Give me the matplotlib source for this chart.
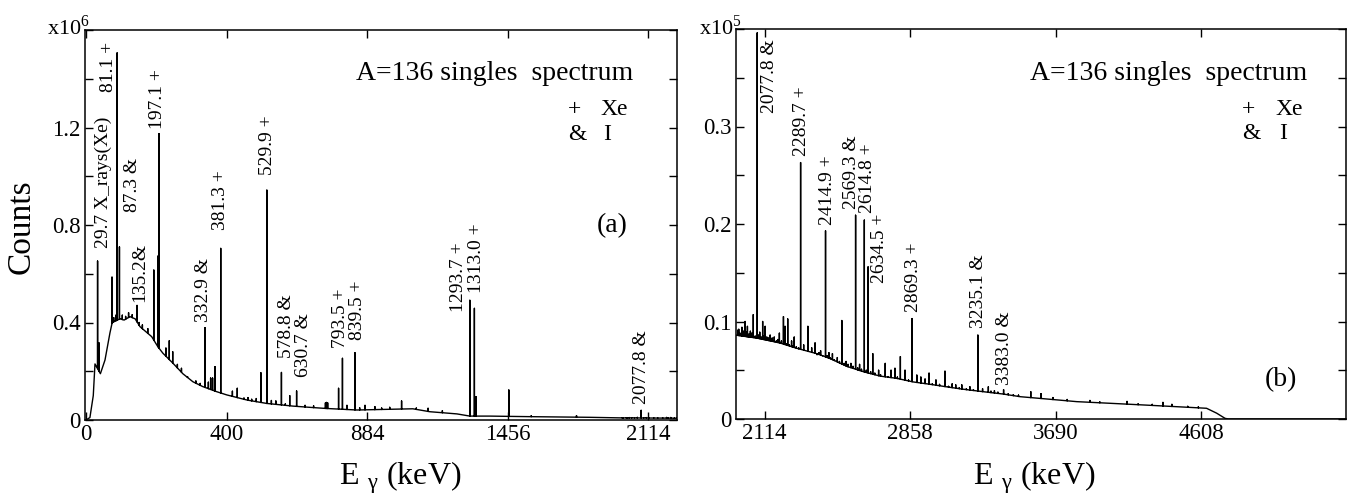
import numpy as np
import matplotlib
matplotlib.use('Agg')
import matplotlib.pyplot as plt
from matplotlib.ticker import MultipleLocator, FuncFormatter

plt.rcParams['font.family'] = ['Liberation Serif', 'DejaVu Serif']
plt.rcParams['mathtext.fontset'] = 'stix'

# continuum under the lines (keV, counts)
bg_energy = [0, 10, 18.6, 23, 37, 49, 62, 68, 75, 88.7, 100, 115.8, 130, 143.3, 160,
             176, 193.9, 208, 237, 266, 296, 326, 369, 400, 464, 529, 618, 723,
             847, 972, 1061, 1129, 1240, 1294, 1379, 1523, 1830, 1977, 2076, 2188,
             2271, 2371, 2438, 2524, 2610, 2698, 2786, 2876, 2968, 3059, 3153,
             3266, 3381, 3479, 3818, 4233, 4644, 4711, 4767, 4790, 5610]
bg_counts = [0, 10000, 100000, 230000, 190000, 246000, 357000, 400000, 405000,
             415000, 410000, 424000, 415000, 383000, 362000, 342000, 300000,
             274000, 233000, 190000, 157000, 137000, 116000, 103000, 82000, 68000,
             57000, 48000, 41000, 44000, 46000, 34000, 25000, 16000, 16000, 14000,
             11000, 8600, 8300, 7800, 7250, 6700, 6200, 5400, 4850, 4400, 4170,
             3800, 3560, 3300, 3050, 2800, 2560, 2290, 1780, 1440, 1100, 600, 70,
             0, 0]

# gamma lines (keV, counts at the top of the line)
peak_energy = [29.7, 33.6, 67.5, 72, 78, 81.1, 87.3, 95, 104, 112, 122, 135.2, 141,
               150, 165, 182, 193.4, 197.1, 216.7, 226.4, 236.3, 250, 262, 280,
               305, 318, 332.9, 343, 350, 356, 363.3, 381.3, 418, 433.5, 455, 468,
               480, 495, 510, 529.9, 545, 560, 578.8, 592, 607, 630.7, 660, 690,
               732, 736, 740, 779.4, 793.5, 810, 839.5, 857, 877, 914, 940, 971,
               1017, 1075, 1122, 1180, 1293.7, 1313.0, 1320, 1461, 1560, 1767,
               1990, 2005, 2020, 2031, 2045, 2059, 2077.8, 2090, 2104, 2116, 2140,
               2160, 2185, 2205, 2213, 2226, 2245, 2258, 2289.7, 2305, 2326, 2345,
               2362, 2390, 2414.9, 2432, 2450, 2475, 2498, 2520, 2545, 2569.3,
               2590, 2614.8, 2634.5, 2659, 2690, 2725, 2756, 2777, 2806, 2831,
               2869.3, 2895, 2917, 2940, 2962, 3000, 3050, 3090, 3110, 3144, 3190,
               3235.1, 3262, 3295, 3330, 3383.0, 3440, 3542, 3603, 3674, 3760,
               3899, 3960, 4042, 4130, 4200, 4290, 4359, 4417, 4520, 4590]
peak_counts = [652000, 316000, 586000, 420000, 430000, 1506000, 710000, 430000,
               425000, 440000, 432000, 470000, 400000, 390000, 375000, 615000,
               672000, 1175000, 295000, 325000, 280000, 228000, 212000, 178000,
               160000, 150000, 379000, 155000, 172000, 172000, 219000, 704000,
               118000, 130000, 90000, 92000, 85000, 88000, 194000, 943000, 80000,
               78000, 195000, 66000, 100000, 119000, 60000, 58000, 70000, 72000,
               70000, 130000, 253000, 60000, 276000, 50000, 60000, 55000, 49000,
               52000, 78000, 49000, 48000, 38000, 492000, 458000, 96000, 123000,
               17000, 18000, 9200, 9400, 10000, 9500, 9000, 10700, 39600, 8900,
               10000, 9500, 8600, 8400, 8800, 10500, 9500, 10260, 8000, 8400,
               26300, 7600, 9500, 7300, 7800, 7000, 19300, 6800, 6700, 6300,
               10100, 5900, 5700, 20900, 5600, 20400, 15600, 6700, 5000, 5700,
               5000, 5200, 6400, 5000, 10300, 4500, 4300, 4100, 4700, 4000, 4900,
               3600, 3500, 3500, 3300, 8600, 3100, 3300, 2900, 3000, 2500, 2800,
               2600, 2200, 2000, 1900, 1750, 1600, 1800, 1550, 1500, 1700, 1500,
               1300, 1250]

# weak structure riding on the continuum (keV, counts)
weak_energy = [1985, 1996, 2012, 2026, 2038, 2052, 2068, 2084, 2097, 2110, 2124,
               2133, 2150, 2170, 2178, 2195, 2220, 2234, 2252, 2268, 2280, 2298,
               2315, 2335, 2352, 2372, 2382, 2400, 2424, 2440, 2460, 2486, 2510,
               2530, 2556, 2580, 2600, 2625, 2648, 2670, 2700, 2740, 2790, 2850,
               2980, 3020, 3070, 3130, 3170, 3210, 3310, 3350, 3410, 3470]
weak_counts = [9100, 8800, 9000, 8900, 8700, 8800, 8500, 8600, 8400, 8500, 8400,
               8300, 8300, 8000, 8150, 8000, 7700, 7600, 7500, 7400, 7300, 7100,
               7000, 6900, 6800, 6600, 6800, 6500, 6500, 6250, 6050, 5900, 5700,
               5600, 5400, 5250, 5100, 5000, 4850, 4700, 4550, 4350, 4300, 4000,
               3600, 3550, 3350, 3200, 3100, 3000, 2850, 2750, 2600, 2450]

# labelled lines in each panel
labels_a = ['29.7 X_rays(Xe)', '81.1 +', '87.3 &', '135.2&', '197.1 +', '332.9 &',
            '381.3 +', '529.9 +', '578.8 &', '630.7 &', '793.5 +', '839.5 +',
            '1293.7 +', '1313.0 +', '2077.8 &']
label_e_a = [29.7, 81.1, 87.3, 135.2, 197.1, 332.9, 381.3, 529.9, 578.8, 630.7,
             793.5, 839.5, 1293.7, 1313.0, 2077.8]
labels_b = ['2077.8 &', '2289.7 +', '2414.9 +', '2569.3 &', '2614.8 +', '2634.5 +',
            '2869.3 +', '3235.1 &', '3383.0 &']
label_e_b = [2077.8, 2289.7, 2414.9, 2569.3, 2614.8, 2634.5, 2869.3, 3235.1, 3383.0]

# text offsets from the line tops, in pixels (dx, dy up)
offs_a = [(6, 13), (-8.7, -39), (12.7, 35), (2.5, 3), (-2, 5), (-2, 6), (0, 18),
          (0.7, 15), (4.7, 14), (7.3, 14.3), (-2.3, 10), (2.8, 12.7), (-11, -11.7),
          (2.5, 15), (0.8, 6.7)]
offs_b = [(12.3, -80), (1.3, 6.7), (1.6, 5.7), (-3.7, 6.7), (3.3, 6.7), (11.7, -16),
          (1, 6.7), (0.3, 6.7), (1, 4.3)]

# energy calibration of the channel axis: E = A*c + B*c^2
A_CAL, B_CAL = 357.0, 43.0


def e_to_ch(e):
    e = np.asarray(e, dtype=float)
    return (-A_CAL + np.sqrt(np.maximum(A_CAL ** 2 + 4 * B_CAL * e, 0))) / (2 * B_CAL)


def ch_to_e(c):
    c = np.asarray(c, dtype=float)
    return A_CAL * c + B_CAL * c * c


def build_spectrum():
    pe = np.array(peak_energy + weak_energy, dtype=float)
    pc = np.array(peak_counts + weak_counts, dtype=float)
    base = np.interp(pe, bg_energy, bg_counts)
    x = np.concatenate([bg_energy, pe, pe, pe])
    y = np.concatenate([bg_counts, base, pc, base])
    order = np.concatenate([np.zeros(len(bg_energy)), np.zeros(len(pe)),
                            np.ones(len(pe)), 2 * np.ones(len(pe))])
    idx = np.lexsort((order, x))
    return x[idx], y[idx]


def zero_fmt(v, pos):
    return '0' if abs(v) < 1e-9 else '%g' % v


def style_axes(ax, xt, yt, yt_minor):
    ax.set_xscale('function', functions=(e_to_ch, ch_to_e))
    ax.set_xticks(xt)
    ax.set_xticklabels([str(t) for t in xt])
    ax.xaxis.set_minor_locator(plt.NullLocator())
    ax.set_yticks(yt)
    ax.yaxis.set_minor_locator(MultipleLocator(yt_minor))
    ax.yaxis.set_major_formatter(FuncFormatter(zero_fmt))
    ax.tick_params(which='both', direction='in', top=True, right=True,
                   length=5.8, width=1.0, labelsize=16.5, pad=3)
    for s in ax.spines.values():
        s.set_linewidth(1.1)


def add_labels(ax, texts, energies, offs, scale):
    for t, e, (dx, dy) in zip(texts, energies, offs):
        top = peak_counts[peak_energy.index(e)] / scale
        ax.annotate(t, xy=(e, top), xytext=(dx * 0.72, dy * 0.72),
                    textcoords='offset points', rotation=90,
                    ha='center', va='bottom', fontsize=14)


def add_legend(ax, x_title, y_title, x_sym, x_name, x_i, y1, y2):
    ax.text(x_title, y_title, 'A=136 singles  spectrum', transform=ax.transAxes,
            ha='right', va='baseline', fontsize=20)
    ax.text(x_sym, y1, '+', transform=ax.transAxes, ha='left', va='baseline', fontsize=17)
    ax.text(x_name, y1, 'Xe', transform=ax.transAxes, ha='left', va='baseline', fontsize=17)
    ax.text(x_sym, y2, '&', transform=ax.transAxes, ha='left', va='baseline', fontsize=17)
    ax.text(x_i, y2, 'I', transform=ax.transAxes, ha='left', va='baseline', fontsize=17)


sx, sy = build_spectrum()

W, H = 1360, 495
fig = plt.figure(figsize=(W / 100, H / 100), dpi=100)
ax1 = fig.add_axes([85 / W, (H - 420) / H, 592 / W, 390 / H])
ax2 = fig.add_axes([736 / W, (H - 419) / H, 610 / W, 390 / H])

# panel (a): low-energy part, x10^6
ax1.plot(sx, sy / 1e6, color='black', lw=1.0)
style_axes(ax1, [0, 400, 884, 1456, 2114], [0, 0.4, 0.8, 1.2], 0.2)
ax1.set_xlim(-2.5, 2258)
ax1.set_ylim(0, 1.6)
add_labels(ax1, labels_a, label_e_a, offs_a, 1e6)
add_legend(ax1, 0.926, 0.872, 0.816, 0.870, 0.875, 0.782, 0.718)
ax1.text(0.891, 0.499, '(a)', transform=ax1.transAxes, ha='center', va='center', fontsize=20)
ax1.text(0.008, 0.987, r'x10$^\mathregular{6}$', transform=ax1.transAxes,
         ha='right', va='baseline', fontsize=16)

# panel (b): high-energy part, x10^5
ax2.plot(sx, sy / 1e5, color='black', lw=1.0)
style_axes(ax2, [2114, 2858, 3690, 4608], [0, 0.1, 0.2, 0.3], 0.05)
ax2.set_xlim(1977, 5608)
ax2.set_ylim(0, 0.4)
add_labels(ax2, labels_b, label_e_b, offs_b, 1e5)
add_legend(ax2, 0.936, 0.869, 0.8295, 0.8836, 0.890, 0.779, 0.718)
ax2.text(0.8926, 0.10, '(b)', transform=ax2.transAxes, ha='center', va='center', fontsize=20)
ax2.text(0.01, 0.985, r'x10$^\mathregular{5}$', transform=ax2.transAxes,
         ha='right', va='baseline', fontsize=16)

fig.text(21 / W, (H - 227) / H, 'Counts', rotation=90, ha='center', va='center', fontsize=24)
xlab = r'E $_\mathregular{\gamma}$ (keV)'
fig.text(400 / W, (H - 485) / H, xlab, ha='center', va='baseline', fontsize=23)
fig.text(1034 / W, (H - 485) / H, xlab, ha='center', va='baseline', fontsize=23)

fig.savefig('out.png', dpi=100)
